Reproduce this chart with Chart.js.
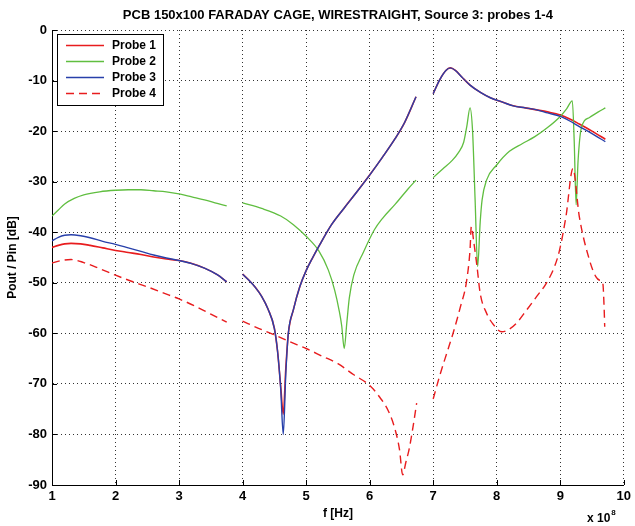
<!DOCTYPE html>
<html>
<head>
<meta charset="utf-8">
<script src="https://cdn.jsdelivr.net/npm/chart.js@4/dist/chart.umd.min.js"></script>
<style>
  html, body { margin: 0; padding: 0; background: #fff; }
  canvas { display: block; }
</style>
</head>
<body>
<canvas id="chart" width="635" height="526"></canvas>
<script>
// frequency in units of 1e8 Hz, null = gap between the measured bands
const freqP13 = [
  1.0, 1.1, 1.2, 1.3, 1.45, 1.6, 1.8, 2.0, 2.2, 2.4, 2.6, 2.8, 3.0, 3.2, 3.4, 3.6, 3.75,
  3.87,
  4.0, 4.1, 4.2, 4.3, 4.4, 4.5, 4.55, 4.6, 4.64, 4.68, 4.72, 4.8, 4.9, 5.0, 5.1, 5.2, 5.4, 5.6, 5.8, 6.0, 6.2, 6.4, 6.55, 6.73,
  6.87,
  7.0, 7.1, 7.2, 7.27, 7.35, 7.45, 7.58, 7.75, 7.9, 8.1, 8.26, 8.45, 8.63, 8.8, 9.0, 9.15, 9.3, 9.5, 9.71
];
const probe1Db = [
  -43.0, -42.6, -42.3, -42.2, -42.3, -42.6, -43.1, -43.6, -44.0, -44.4, -44.9, -45.3, -45.6, -46.2, -47.1, -48.4, -49.8,
  null,
  -48.3, -49.5, -50.9, -52.7, -55.2, -59.0, -63.5, -70.5, -76, -67, -60, -55.3, -50.8, -47.6, -45.1, -42.8, -38.5, -35.2, -32.0, -28.7, -25.2, -21.5, -18.3, -13.2,
  null,
  -12.6, -9.9, -8.0, -7.5, -8.0, -9.3, -10.9, -12.4, -13.4, -14.3, -15.0, -15.4, -15.8, -16.2, -16.8, -17.6, -18.6, -20.0, -21.6
];
const probe3Db = [
  -41.7, -41.0, -40.6, -40.5, -40.7, -41.1, -41.8, -42.4, -43.1, -43.8, -44.5, -45.1, -45.6, -46.2, -47.1, -48.4, -49.8,
  null,
  -48.3, -49.5, -50.9, -52.7, -55.2, -59.0, -63.5, -71, -80, -68, -60, -55.3, -50.8, -47.6, -45.1, -42.8, -38.5, -35.2, -32.0, -28.7, -25.2, -21.5, -18.3, -13.2,
  null,
  -12.6, -9.9, -8.0, -7.5, -8.0, -9.3, -10.9, -12.4, -13.4, -14.3, -15.0, -15.4, -15.8, -16.4, -17.1, -18.0, -19.1, -20.5, -22.1
];

const freqP2 = [
  1.0, 1.1, 1.2, 1.35, 1.5, 1.75, 2.0, 2.2, 2.4, 2.6, 2.8, 3.0, 3.2, 3.4, 3.6, 3.75,
  3.87,
  4.0, 4.3, 4.6, 4.8, 5.0, 5.2, 5.35, 5.45, 5.52, 5.56, 5.6, 5.64, 5.68, 5.75, 5.9, 6.07, 6.2, 6.4, 6.6, 6.73,
  6.87,
  7.0, 7.15, 7.3, 7.4, 7.48, 7.53, 7.58, 7.62, 7.66, 7.7, 7.74, 7.77, 7.84, 8.0, 8.2, 8.4, 8.6, 8.8, 9.0, 9.1, 9.19, 9.22, 9.25, 9.28, 9.33, 9.46, 9.6, 9.71
];
const probe2Db = [
  -36.8, -35.6, -34.4, -33.3, -32.6, -32.0, -31.7, -31.6, -31.6, -31.8, -32.0, -32.4, -33.0, -33.6, -34.3, -34.8,
  null,
  -34.2, -35.3, -36.8, -38.5, -40.8, -43.7, -47.5, -51.5, -55.5, -58.5, -63, -58, -53, -48.5, -44, -39.6, -37.3, -34.5, -31.5, -29.7,
  null,
  -29.2, -27.5, -25.8, -24.2, -22.2, -19.0, -15.4, -20, -33.6, -46.8, -38, -33.6, -29.7, -26.7, -24.0, -22.5, -21.1, -19.3, -17.1, -15.6, -14.0, -22, -34.6, -26, -19.5, -17.3, -16.2, -15.4
];

const freqP4 = [
  1.0, 1.15, 1.3, 1.5, 1.75, 2.0, 2.25, 2.5, 2.75, 3.0, 3.25, 3.5, 3.75,
  3.87,
  4.0, 4.25, 4.5, 4.75, 5.0, 5.25, 5.5, 5.75, 6.0, 6.15, 6.3, 6.4, 6.47, 6.52, 6.57, 6.62, 6.67, 6.74,
  6.87,
  7.0, 7.1, 7.23, 7.32, 7.43, 7.52, 7.58, 7.6, 7.64, 7.69, 7.74, 7.84, 7.95, 8.08, 8.18, 8.31, 8.47, 8.63, 8.78, 8.91, 8.99, 9.09, 9.2, 9.3, 9.46, 9.56, 9.62, 9.67, 9.69, 9.7
];
const probe4Db = [
  -46.1, -45.6, -45.4, -46.0, -47.2, -48.5, -49.7, -50.8, -52.0, -53.2, -54.6, -56.2, -57.8,
  null,
  -57.6, -59.0, -60.3, -61.7, -63.0, -64.5, -66.0, -68.2, -70.3, -72.5, -75.5, -79, -83, -88, -85.5, -83, -79.5, -73.8,
  null,
  -73, -68.5, -63.3, -59.7, -54.7, -50.1, -43.5, -38.9, -42, -46.8, -52.1, -56, -58.3, -59.7, -59.3, -58, -55.4, -52.7, -50.1, -46.8, -43.5, -36.9, -27.4, -36.9, -45.5, -48.8, -49.5, -50.1, -54.7, -58.7
];

const probeNames = ["Probe 1", "Probe 2", "Probe 3", "Probe 4"];
const xTicks = [1, 2, 3, 4, 5, 6, 7, 8, 9, 10];
const yTicks = [0, -10, -20, -30, -40, -50, -60, -70, -80, -90];

const RED = "rgb(232,28,30)";
const GREEN = "rgb(96,190,64)";
const BLUE = "rgb(40,64,170)";
const FONT = "'Liberation Sans', Arial, sans-serif";

const toPoints = (xs, ys) => xs.map((x, i) => ({ x: x, y: ys[i] }));

// title, x10^8 multiplier, inward ticks, legend box
const matlabDecor = {
  id: "matlabDecor",
  afterDraw(chart) {
    const ctx = chart.ctx;
    const area = chart.chartArea;
    const xs = chart.scales.x;
    const ys = chart.scales.y;
    ctx.save();

    ctx.fillStyle = "#000";
    ctx.font = "bold 13px " + FONT;
    ctx.textAlign = "center";
    ctx.textBaseline = "middle";
    ctx.fillText("PCB 150x100 FARADAY CAGE, WIRESTRAIGHT, Source 3: probes 1-4", (area.left + area.right) / 2, 15);

    ctx.textAlign = "left";
    ctx.textBaseline = "alphabetic";
    ctx.font = "bold 12px " + FONT;
    const mult = "x 10";
    ctx.fillText(mult, 587, 522);
    const mw = ctx.measureText(mult).width;
    ctx.font = "bold 8px " + FONT;
    ctx.fillText("8", 587 + mw + 1, 515);

    ctx.strokeStyle = "#000";
    ctx.lineWidth = 1;
    ctx.beginPath();
    xTicks.forEach(v => {
      const px = Math.round(xs.getPixelForValue(v)) + 0.5;
      ctx.moveTo(px, area.bottom);
      ctx.lineTo(px, area.bottom - 5);
    });
    yTicks.forEach(v => {
      const py = Math.round(ys.getPixelForValue(v)) + 0.5;
      ctx.moveTo(area.left, py);
      ctx.lineTo(area.left + 5, py);
    });
    ctx.stroke();

    // legend
    const lx = 57.5, ly = 34.5, lw = 106, lh = 71;
    ctx.fillStyle = "#fff";
    ctx.fillRect(lx, ly, lw, lh);
    ctx.strokeStyle = "#000";
    ctx.strokeRect(lx, ly, lw, lh);
    ctx.font = "bold 12px " + FONT;
    ctx.textBaseline = "middle";
    chart.data.datasets.forEach((ds, i) => {
      const y = 45.5 + i * 16;
      ctx.strokeStyle = ds.borderColor;
      ctx.lineWidth = 1.6;
      ctx.setLineDash(ds.borderDash || []);
      ctx.beginPath();
      ctx.moveTo(66, y);
      ctx.lineTo(104, y);
      ctx.stroke();
      ctx.setLineDash([]);
      ctx.fillStyle = "#000";
      ctx.fillText(ds.label, 112, y + 0.5);
    });
    ctx.restore();
  }
};

new Chart(document.getElementById("chart"), {
  type: "line",
  data: {
    datasets: [
      { label: probeNames[0], data: toPoints(freqP13, probe1Db), borderColor: RED, borderWidth: 1.6, order: 4 },
      { label: probeNames[1], data: toPoints(freqP2, probe2Db), borderColor: GREEN, borderWidth: 1.3, order: 3 },
      { label: probeNames[2], data: toPoints(freqP13, probe3Db), borderColor: BLUE, borderWidth: 1.4, order: 2 },
      { label: probeNames[3], data: toPoints(freqP4, probe4Db), borderColor: RED, borderWidth: 1.4, borderDash: [8, 5], order: 1 }
    ]
  },
  options: {
    responsive: false,
    animation: false,
    spanGaps: false,
    layout: { padding: { top: 30, right: 7, left: 0, bottom: 0 } },
    elements: {
      point: { radius: 0 },
      line: { cubicInterpolationMode: "monotone", fill: false }
    },
    plugins: {
      legend: { display: false },
      title: { display: false },
      tooltip: { enabled: false }
    },
    scales: {
      x: {
        type: "linear",
        min: 1,
        max: 10,
        afterFit: s => { s.height = 41; },
        afterBuildTicks: s => { s.ticks = xTicks.map(v => ({ value: v })); },
        ticks: { color: "#000", font: { family: FONT, size: 13, weight: "bold" }, padding: 4, maxRotation: 0, autoSkip: false },
        grid: { color: "#333", lineWidth: 1, drawTicks: false },
        border: { color: "#000", width: 1, dash: [1, 3] },
        title: { display: true, text: "f [Hz]", color: "#000", font: { family: FONT, size: 12, weight: "bold" }, padding: { top: 0, bottom: 5 } }
      },
      y: {
        type: "linear",
        min: -90,
        max: 0,
        afterFit: s => { s.width = 52; },
        afterBuildTicks: s => { s.ticks = yTicks.map(v => ({ value: v })); },
        ticks: { color: "#000", font: { family: FONT, size: 13, weight: "bold" }, padding: 5 },
        grid: { color: "#333", lineWidth: 1, drawTicks: false },
        border: { color: "#000", width: 1, dash: [1, 3] },
        title: { display: true, text: "Pout / Pin [dB]", color: "#000", font: { family: FONT, size: 12, weight: "bold" }, padding: { top: 5, bottom: 0 } }
      }
    }
  },
  plugins: [matlabDecor]
});
</script>
</body>
</html>
